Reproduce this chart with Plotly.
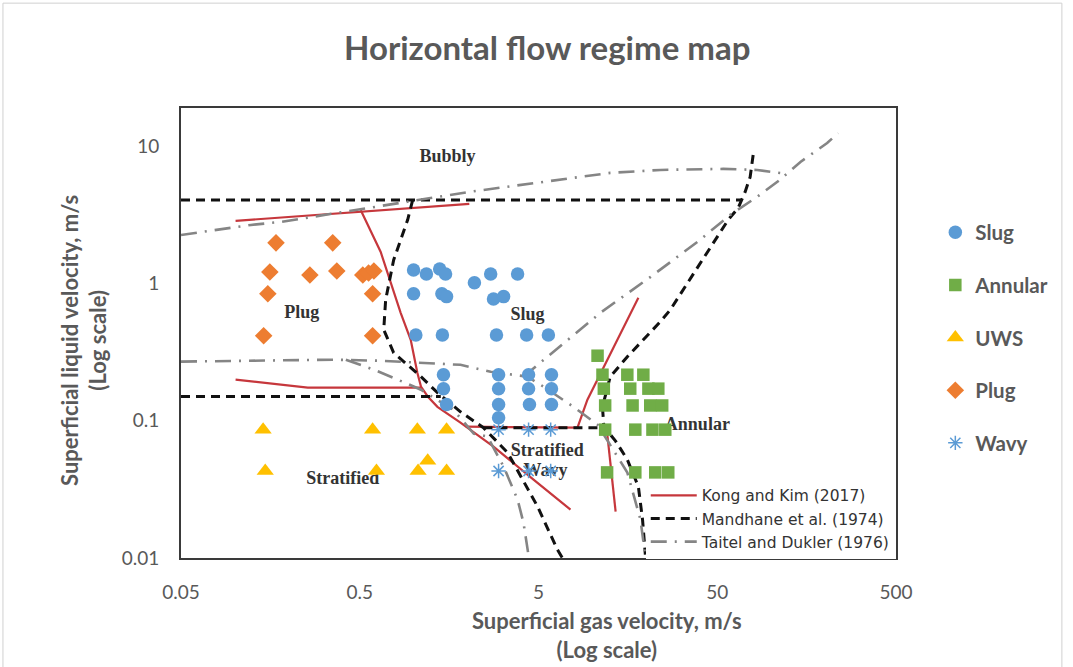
import plotly.graph_objects as go

# ---------------- data ----------------
slug_x = [1.00, 1.18, 1.40, 1.51, 2.19, 2.70, 3.82,
          1.00, 1.44, 1.53, 2.80, 3.19,
          1.03, 1.45, 2.91, 4.29, 5.68,
          1.47, 1.47, 1.53, 2.99, 2.99, 2.99, 2.99, 4.40, 4.40, 4.45, 5.91, 5.91, 5.91]
slug_y = [1.25, 1.17, 1.27, 1.17, 1.01, 1.17, 1.17,
          0.84, 0.84, 0.80, 0.77, 0.80,
          0.42, 0.42, 0.42, 0.42, 0.42,
          0.216, 0.171, 0.131, 0.216, 0.171, 0.131, 0.105, 0.216, 0.171, 0.131, 0.216, 0.171, 0.131]

annular_x = [10.7, 11.4, 15.7, 19.3, 11.6, 16.3, 20.6, 23.4, 11.8, 16.8, 21.1, 24.6,
             11.8, 17.4, 21.7, 25.6, 12.1, 17.4, 22.5, 26.6]
annular_y = [0.297, 0.216, 0.216, 0.216, 0.171, 0.171, 0.171, 0.171, 0.129, 0.129, 0.129, 0.129,
             0.086, 0.086, 0.086, 0.086, 0.042, 0.042, 0.042, 0.042]

uws_x = [0.144, 0.59, 1.05, 1.53, 0.148, 0.62, 1.06, 1.20, 1.53]
uws_y = [0.086, 0.086, 0.086, 0.086, 0.043, 0.043, 0.043, 0.051, 0.043]

plug_x = [0.170, 0.353, 0.157, 0.263, 0.372, 0.52, 0.56, 0.60, 0.153, 0.59, 0.145, 0.59]
plug_y = [1.97, 1.97, 1.21, 1.15, 1.23, 1.15, 1.19, 1.23, 0.839, 0.839, 0.415, 0.415]

wavy_x = [2.99, 4.40, 5.85, 2.99, 4.40, 5.85]
wavy_y = [0.086, 0.086, 0.086, 0.043, 0.043, 0.043]

# Kong and Kim (2017) boundaries
kk1_x = [0.101, 2.05]
kk1_y = [2.85, 3.79]
kk2_x = [0.506, 0.655, 0.847, 0.964, 1.05, 1.10, 1.20, 1.36, 1.83, 2.80, 4.69, 7.55]
kk2_y = [3.42, 1.69, 0.610, 0.388, 0.223, 0.177, 0.150, 0.126, 0.0967, 0.0647, 0.0372, 0.0225]
kk3_x = [0.101, 0.256, 1.10]
kk3_y = [0.199, 0.174, 0.174]
kk4_x = [1.96, 8.26, 9.39, 18.1]
kk4_y = [0.0904, 0.0889, 0.142, 0.784]
kk5_x = [12.1, 13.5]
kk5_y = [0.0818, 0.0218]

# Mandhane et al. (1974) boundaries
md1_x = [0.05, 68.7]
md1_y = [4.05, 4.05]
md2_x = [0.05, 1.42]
md2_y = [0.150, 0.150]
md3_x = [0.989, 0.927, 0.774, 0.698, 0.681, 0.774, 1.10, 1.36, 1.83, 2.46, 3.36, 3.97, 4.94, 6.38, 6.8]
md3_y = [4.05, 2.90, 1.48, 0.759, 0.459, 0.312, 0.209, 0.160, 0.116, 0.0889, 0.0585, 0.0392, 0.0237, 0.0115, 0.0100]
md4_x = [2.46, 11.6]
md4_y = [0.0889, 0.0889]
md5_x = [79.4, 76.4, 71.6, 65.5, 57.6, 47.5, 38.7, 27.3, 24.0, 15.7, 12.6, 11.4, 11.6, 13.5, 15.7, 18.1, 19.1, 19.8]
md5_y = [8.60, 5.95, 4.63, 3.54, 2.90, 1.97, 1.32, 0.641, 0.525, 0.292, 0.209, 0.126, 0.0904, 0.071, 0.0520, 0.0331, 0.0190, 0.0106]

# Taitel and Dukler (1976) boundaries
td1_x = [0.05, 0.0805, 0.123, 0.181, 0.407, 0.927, 2.05, 12.6, 24.0, 54.0, 83.6, 123]
td1_y = [2.25, 2.45, 2.66, 2.80, 3.31, 3.91, 4.63, 6.37, 6.69, 6.81, 6.69, 6.26]
td2_x = [4.12, 5.13, 7.26, 11.1, 21.1, 38.7, 59.1, 83.6, 112, 146, 206, 237]
td2_y = [0.209, 0.264, 0.388, 0.610, 1.11, 2.00, 3.15, 4.26, 5.66, 7.65, 10.5, 12.4]
td3_x = [0.05, 0.358, 0.655, 1.20, 1.83, 2.70, 4.34, 5.33, 7.85, 10.7, 13.1, 15.7, 18.6, 19.8]
td3_y = [0.269, 0.278, 0.273, 0.264, 0.255, 0.227, 0.209, 0.177, 0.126, 0.0935, 0.0615, 0.0419, 0.019, 0.0103]
td4_x = [0.418, 0.60, 0.869, 1.10, 1.67, 2.17, 2.59, 3.19, 3.82, 4.12, 4.40]
td4_y = [0.278, 0.235, 0.192, 0.168, 0.120, 0.0804, 0.0766, 0.0463, 0.0266, 0.0181, 0.0104]

# region labels
region_text = ["Bubbly", "Plug", "Slug", "Stratified", "Wavy", "Annular", "Stratified"]
region_x = [1.55, 0.237, 4.34, 5.6, 5.47, 38.7, 0.402]
region_y = [8.18, 0.60, 0.58, 0.0596, 0.0426, 0.092, 0.0372]

x_ticks = [0.05, 0.5, 5, 50, 500]
x_tick_text = ["0.05", "0.5", "5", "50", "500"]
y_ticks = [0.01, 0.1, 1, 10]
y_tick_text = ["0.01", "0.1", "1", "10"]

# ---------------- figure ----------------
fig = go.Figure()

RED = "#C6373C"
GRAY = "#858585"
line_sets = [
    ("Kong and Kim (2017)", dict(color=RED, width=2.2), [(kk1_x, kk1_y), (kk2_x, kk2_y), (kk3_x, kk3_y), (kk4_x, kk4_y), (kk5_x, kk5_y)]),
    ("Mandhane et al. (1974)", dict(color="#111111", width=3, dash="9px,6px"), [(md1_x, md1_y), (md2_x, md2_y), (md3_x, md3_y), (md4_x, md4_y), (md5_x, md5_y)]),
    ("Taitel and Dukler (1976)", dict(color=GRAY, width=2.6, dash="16px,8px,2px,8px"), [(td1_x, td1_y), (td2_x, td2_y), (td3_x, td3_y), (td4_x, td4_y)]),
]
for name, ln, segs in line_sets:
    for i, (sx, sy) in enumerate(segs):
        fig.add_trace(go.Scatter(x=sx, y=sy, mode="lines", line=ln, name=name,
                                 legendgroup=name, showlegend=(i == 0), legend="legend2",
                                 hoverinfo="skip"))

fig.add_trace(go.Scatter(x=region_x, y=region_y, mode="text", text=region_text,
                         textfont=dict(family="Liberation Serif", size=18, color="#333333", weight="bold"),
                         showlegend=False, hoverinfo="skip"))

marker_sets = [
    ("Slug", slug_x, slug_y, dict(symbol="circle", size=13.5, color="#5B9BD5")),
    ("Annular", annular_x, annular_y, dict(symbol="square", size=12.5, color="#70AD47")),
    ("UWS", uws_x, uws_y, dict(symbol="triangle-up", size=15, color="#FFC000")),
    ("Plug", plug_x, plug_y, dict(symbol="diamond", size=13.5, color="#ED7D31")),
    ("Wavy", wavy_x, wavy_y, dict(symbol="asterisk-open", size=12, color="#5B9BD5", line=dict(width=1.5, color="#6FA8DC"))),
]
for name, mx, my, mk in marker_sets:
    fig.add_trace(go.Scatter(x=mx, y=my, mode="markers", marker=mk, name=name,
                             legendgroup=name, legend="legend"))

axis_common = dict(type="log", showline=True, mirror=True, linecolor="#3a3a3a", linewidth=2,
                   showgrid=False, zeroline=False, ticks="",
                   tickfont=dict(family="Lato", size=19, color="#595959"))

fig.update_layout(
    width=1073, height=667,
    margin=dict(l=181, r=177, t=108, b=109),
    paper_bgcolor="white", plot_bgcolor="white",
    title=dict(text="<b>Horizontal flow regime map</b>", x=0.51, xanchor="center", y=0.928, yanchor="middle",
               font=dict(family="Lato", size=33, color="#595959")),
    xaxis=dict(range=[-1.30103, 2.69897], tickvals=x_ticks, ticktext=x_tick_text,
               ticklabelstandoff=16, **axis_common),
    yaxis=dict(range=[-2, 1.2764], tickvals=y_ticks, ticktext=y_tick_text,
               ticklabelstandoff=16, **axis_common),
    legend=dict(x=1.055, y=0.768, xanchor="left", yanchor="top", traceorder="grouped",
                tracegroupgap=23, font=dict(family="Lato", size=20.5, color="#595959", weight="bold"),
                bgcolor="rgba(0,0,0,0)", itemwidth=30),
    legend2=dict(x=0.650, y=0.176, xanchor="left", yanchor="top",
                 font=dict(family="DejaVu Sans", size=15.5, color="#333333"),
                 bgcolor="white", tracegroupgap=0, itemwidth=46),
    showlegend=True,
    annotations=[
        dict(text="<b>Superficial gas velocity, m/s<br>(Log scale)</b>", xref="paper", yref="paper",
             x=0.596, y=-0.171, xanchor="center", yanchor="middle", showarrow=False,
             font=dict(family="Lato", size=22, color="#595959")),
        dict(text="<b>Superficial liquid velocity, m/s<br>(Log scale)</b>", xref="paper", yref="paper",
             x=-0.136, y=0.484, xanchor="center", yanchor="middle", showarrow=False, textangle=-90,
             font=dict(family="Lato", size=22, color="#595959")),
    ],
    shapes=[dict(type="rect", xref="paper", yref="paper", x0=-0.249, x1=1.232, y0=-0.26, y1=1.233,
                 line=dict(color="#d0d0d0", width=1), layer="below")],
)

fig.write_html("out.html")
